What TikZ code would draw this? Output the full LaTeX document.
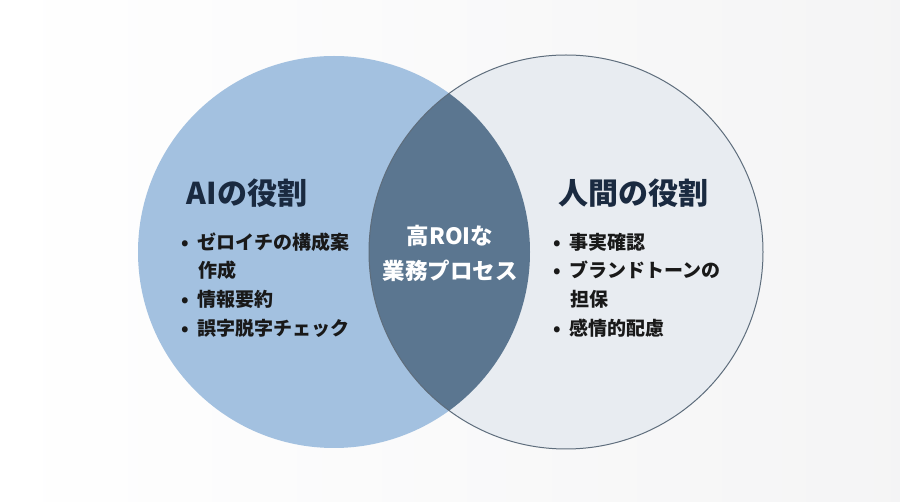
\documentclass[tikz,border=0pt]{standalone}
\usepackage{fontspec}
\setmainfont{Noto Sans CJK JP}
\begin{document}
\begin{tikzpicture}[x=1pt,y=-1pt,
  title/.style={font=\fontsize{30}{34}\selectfont\bfseries,text=tc},
  item/.style={font=\fontsize{19}{28.5}\selectfont\bfseries,text=black!90,anchor=west,align=left,inner sep=0},
  center/.style={font=\fontsize{22.5}{35}\selectfont\bfseries,text=white,align=center}]
\definecolor{lc}{HTML}{A3C1E0}
\definecolor{rc}{HTML}{E8ECF1}
\definecolor{ov}{HTML}{5B7690}
\definecolor{bd}{HTML}{5E6D7C}
\definecolor{tc}{HTML}{1A2A40}
\shade[left color=white,right color=blue!4!gray!8] (0,0) rectangle (900,502);
\useasboundingbox (0,0) rectangle (900,502);
\fill[lc] (334,252) circle (196);
\fill[rc] (566,252) circle (197);
\begin{scope}
\clip (334,252) circle (196);
\fill[ov] (566,252) circle (197);
\end{scope}
\draw[bd,line width=1pt] (566,252) circle (197);
\node[title] (lt) at (247,193) {AIの役割};
\node[title] (rt) at (633,193) {人間の役割};
\node[item] (l1) at (181,242) {•\ \ ゼロイチの構成案};
\node[item] (l1b) at (198,270) {作成};
\node[item] (l2) at (181,299) {•\ \ 情報要約};
\node[item] (l3) at (181,328) {•\ \ 誤字脱字チェック};
\node[item] (r1) at (553,242) {•\ \ 事実確認};
\node[item] (r2) at (553,270) {•\ \ ブランドトーンの};
\node[item] (r2b) at (570,299) {担保};
\node[item] (r3) at (553,328) {•\ \ 感情的配慮};
\node[center] (c) at (450,253) {高ROIな\\業務プロセス};
\end{tikzpicture}
\end{document}
